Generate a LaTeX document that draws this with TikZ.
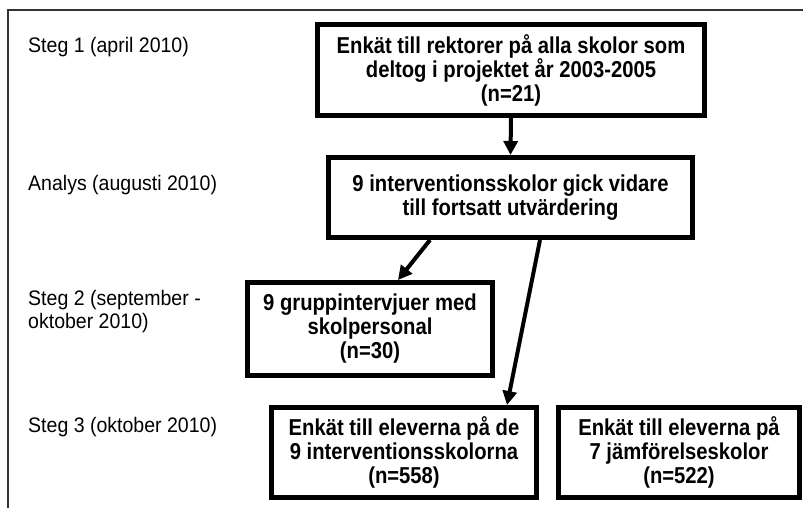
\documentclass[tikz,border=0pt]{standalone}
\usepackage{fontspec}
\setmainfont{Liberation Sans}
\newfontfamily\boxfont[FakeStretch=0.88]{Liberation Sans}
\newfontfamily\labelfont[FakeStretch=0.93]{Liberation Sans}
\usetikzlibrary{arrows.meta,calc}
\begin{document}
\begin{tikzpicture}[x=1pt,y=-1pt,
  stepbox/.style={draw=black,line width=5pt,fill=white,align=center,inner sep=0pt,
    font=\boxfont\fontsize{23}{24}\selectfont\bfseries},
  steplabel/.style={anchor=west,align=left,inner sep=0pt,font=\labelfont\fontsize{21}{23}\selectfont},
  flow/.style={line width=4pt,-{Triangle[length=14pt,width=14pt]}}]
\useasboundingbox (0,0) rectangle (803,508);
\clip (0,0) rectangle (803,508);
\fill[white] (0,0) rectangle (803,508);
\draw[line width=1.8pt,draw=black!80] (8,10) rectangle (840,560);
% boxes
\node[stepbox,minimum width=387pt,minimum height=91pt] (b1) at (511,70)
  {Enkät till rektorer på alla skolor som\\deltog i projektet år 2003-2005\\(n=21)};
\node[stepbox,minimum width=364pt,minimum height=80pt] (b2) at (510.5,197.5)
  {9 interventionsskolor gick vidare\\till fortsatt utvärdering};
\node[stepbox,minimum width=245pt,minimum height=93pt] (b3) at (370,329)
  {9 gruppintervjuer med\\skolpersonal\\(n=30)};
\node[stepbox,minimum width=265pt,minimum height=90pt] (b4) at (404,452.5)
  {Enkät till eleverna på de\\9 interventionsskolorna\\(n=558)};
\node[stepbox,minimum width=241pt,minimum height=90pt] (b5) at (679,452.5)
  {Enkät till eleverna på\\7 jämförelseskolor\\(n=522)};
% labels
\node[steplabel] (l1) at (28,47) {Steg 1 (april 2010)};
\node[steplabel] (l2) at (28,185) {Analys (augusti 2010)};
\node[steplabel] (l3) at (28,312) {Steg 2 (september -\\oktober 2010)};
\node[steplabel] (l4) at (28,427) {Steg 3 (oktober 2010)};
% connectors
\draw[flow] (b1.south) -- (b2.north);
\draw[flow] ([xshift=-80.5pt]b2.south) -- ([xshift=28pt]b3.north);
\draw[flow] ([xshift=29.5pt]b2.south) -- ([xshift=103pt]b4.north);
\end{tikzpicture}
\end{document}
